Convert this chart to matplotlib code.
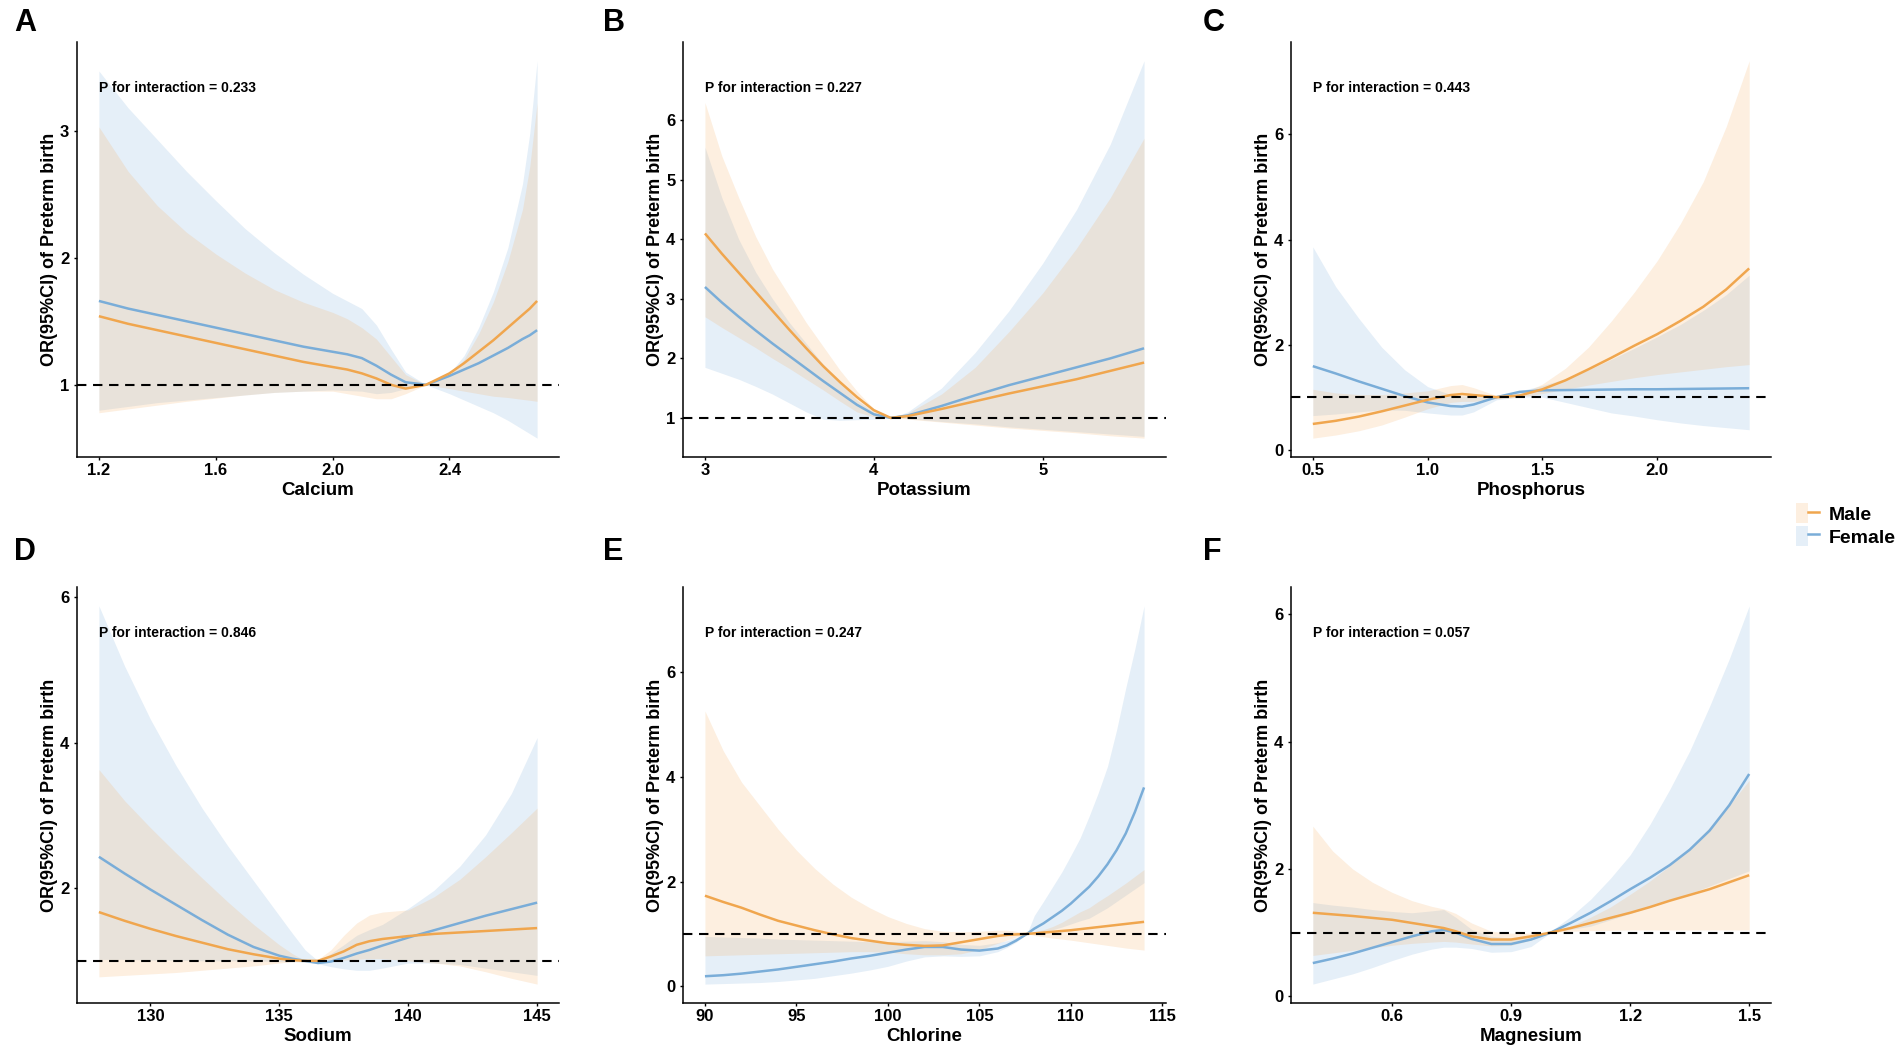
import matplotlib
matplotlib.use('Agg')
import matplotlib.pyplot as plt
import matplotlib.transforms as mtransforms
from matplotlib.patches import Patch
from matplotlib.lines import Line2D
from matplotlib.legend_handler import HandlerTuple

# ---- data (OR and 95% CI by sex) ----
# A  Calcium
ca_x = [1.2, 1.3, 1.4, 1.5, 1.6, 1.7, 1.8, 1.9, 2.0, 2.05, 2.1, 2.15, 2.2, 2.25, 2.32, 2.4, 2.45, 2.5, 2.55, 2.6, 2.65, 2.675, 2.7]
ca_m = [1.54, 1.48, 1.43, 1.38, 1.33, 1.28, 1.23, 1.18, 1.14, 1.12, 1.09, 1.05, 1.0, 0.97, 1.0, 1.09, 1.17, 1.26, 1.35, 1.45, 1.55, 1.6, 1.66]
ca_m_lo = [0.78, 0.81, 0.84, 0.87, 0.895, 0.92, 0.94, 0.95, 0.95, 0.93, 0.91, 0.89, 0.89, 0.93, 1.0, 0.97, 0.95, 0.93, 0.91, 0.9, 0.885, 0.878, 0.87]
ca_m_hi = [3.03, 2.68, 2.41, 2.2, 2.03, 1.88, 1.75, 1.65, 1.57, 1.52, 1.45, 1.36, 1.22, 1.08, 1.0, 1.08, 1.2, 1.4, 1.65, 1.97, 2.38, 2.72, 3.22]
ca_f = [1.66, 1.60, 1.55, 1.50, 1.45, 1.40, 1.35, 1.30, 1.26, 1.24, 1.21, 1.15, 1.08, 1.02, 1.0, 1.07, 1.12, 1.17, 1.23, 1.29, 1.36, 1.39, 1.43]
ca_f_lo = [0.80, 0.83, 0.86, 0.88, 0.90, 0.92, 0.94, 0.95, 0.96, 0.955, 0.95, 0.93, 0.94, 0.97, 1.0, 0.93, 0.88, 0.83, 0.78, 0.72, 0.65, 0.615, 0.58]
ca_f_hi = [3.47, 3.18, 2.93, 2.68, 2.45, 2.23, 2.04, 1.87, 1.72, 1.66, 1.60, 1.47, 1.28, 1.10, 1.0, 1.09, 1.23, 1.45, 1.73, 2.08, 2.58, 2.98, 3.55]

# B  Potassium
k_x = [3.0, 3.1, 3.2, 3.3, 3.4, 3.5, 3.6, 3.7, 3.8, 3.9, 4.0, 4.1, 4.2, 4.4, 4.6, 4.8, 5.0, 5.2, 5.4, 5.6]
k_m = [4.10, 3.76, 3.44, 3.12, 2.8, 2.48, 2.17, 1.87, 1.6, 1.35, 1.13, 1.0, 1.03, 1.15, 1.28, 1.41, 1.53, 1.65, 1.79, 1.93]
k_m_lo = [2.7, 2.52, 2.35, 2.18, 2.0, 1.83, 1.65, 1.47, 1.28, 1.1, 1.02, 1.0, 0.98, 0.93, 0.88, 0.83, 0.79, 0.75, 0.7, 0.66]
k_m_hi = [6.3, 5.4, 4.7, 4.05, 3.5, 3.05, 2.6, 2.2, 1.8, 1.45, 1.15, 1.0, 1.08, 1.4, 1.85, 2.45, 3.1, 3.85, 4.7, 5.7]
k_f = [3.2, 2.94, 2.7, 2.47, 2.25, 2.04, 1.83, 1.62, 1.42, 1.22, 1.06, 1.0, 1.04, 1.2, 1.38, 1.55, 1.7, 1.85, 2.0, 2.17]
k_f_lo = [1.85, 1.75, 1.65, 1.53, 1.4, 1.25, 1.1, 0.98, 0.96, 0.97, 0.98, 1.0, 0.99, 0.94, 0.9, 0.85, 0.81, 0.77, 0.73, 0.69]
k_f_hi = [5.55, 4.7, 4.0, 3.45, 3.0, 2.6, 2.25, 1.9, 1.6, 1.3, 1.1, 1.0, 1.1, 1.5, 2.1, 2.8, 3.6, 4.5, 5.6, 7.0]

# C  Phosphorus
p_x = [0.5, 0.6, 0.7, 0.8, 0.9, 1.0, 1.1, 1.15, 1.2, 1.3, 1.4, 1.5, 1.6, 1.7, 1.8, 1.9, 2.0, 2.1, 2.2, 2.3, 2.4]
p_m = [0.49, 0.55, 0.63, 0.73, 0.84, 0.95, 1.04, 1.06, 1.04, 1.0, 1.03, 1.15, 1.32, 1.53, 1.75, 1.98, 2.2, 2.45, 2.72, 3.05, 3.45]
p_m_lo = [0.22, 0.28, 0.36, 0.47, 0.62, 0.78, 0.9, 0.92, 0.92, 0.97, 1.0, 1.07, 1.15, 1.23, 1.3, 1.37, 1.43, 1.48, 1.53, 1.58, 1.62]
p_m_hi = [1.15, 1.08, 1.05, 1.05, 1.08, 1.12, 1.22, 1.24, 1.18, 1.03, 1.05, 1.25, 1.55, 1.95, 2.45, 3.0, 3.6, 4.3, 5.1, 6.15, 7.4]
p_f = [1.59, 1.45, 1.3, 1.16, 1.02, 0.9, 0.83, 0.82, 0.86, 1.0, 1.1, 1.13, 1.135, 1.14, 1.145, 1.15, 1.15, 1.155, 1.16, 1.165, 1.17]
p_f_lo = [0.65, 0.68, 0.72, 0.76, 0.75, 0.7, 0.66, 0.66, 0.72, 0.95, 1.0, 1.0, 0.9, 0.8, 0.7, 0.64, 0.57, 0.51, 0.46, 0.42, 0.38]
p_f_hi = [3.86, 3.1, 2.5, 1.95, 1.52, 1.2, 1.05, 1.02, 1.02, 1.0, 1.12, 1.22, 1.35, 1.52, 1.72, 1.93, 2.15, 2.38, 2.65, 2.95, 3.32]

# D  Sodium
na_x = [128, 129, 130, 131, 132, 133, 134, 135, 135.5, 136, 136.5, 137, 137.5, 138, 138.5, 139, 140, 141, 142, 143, 144, 145]
na_m = [1.67, 1.55, 1.44, 1.34, 1.25, 1.16, 1.09, 1.03, 1.01, 1.0, 1.0, 1.06, 1.13, 1.22, 1.27, 1.3, 1.34, 1.37, 1.39, 1.41, 1.43, 1.45]
na_m_lo = [0.78, 0.8, 0.82, 0.84, 0.87, 0.9, 0.93, 0.97, 0.99, 1.0, 1.0, 1.0, 1.01, 1.02, 1.03, 1.03, 1.0, 0.97, 0.93, 0.85, 0.76, 0.68]
na_m_hi = [3.63, 3.2, 2.83, 2.48, 2.14, 1.81, 1.5, 1.22, 1.1, 1.0, 1.02, 1.15, 1.35, 1.52, 1.63, 1.67, 1.7, 1.88, 2.12, 2.43, 2.76, 3.1]
na_f = [2.43, 2.2, 1.98, 1.77, 1.56, 1.36, 1.19, 1.07, 1.03, 1.0, 0.97, 0.99, 1.04, 1.1, 1.15, 1.21, 1.32, 1.42, 1.52, 1.62, 1.71, 1.80]
na_f_lo = [1.02, 1.02, 1.01, 1.01, 1.0, 1.0, 1.0, 0.99, 0.99, 0.98, 0.96, 0.92, 0.89, 0.87, 0.87, 0.9, 0.97, 0.97, 0.95, 0.9, 0.85, 0.8]
na_f_hi = [5.88, 5.05, 4.32, 3.68, 3.1, 2.58, 2.1, 1.62, 1.38, 1.15, 1.0, 1.1, 1.22, 1.35, 1.43, 1.5, 1.72, 1.97, 2.3, 2.73, 3.3, 4.07]

# E  Chlorine
cl_x = [90, 91, 92, 93, 94, 95, 96, 97, 98, 99, 100, 101, 102, 103, 104, 105, 106, 106.5, 107, 107.6,
        108, 108.5, 109, 109.5, 110, 110.5, 111, 111.5, 112, 112.5, 113, 113.5, 114]
cl_m = [1.73, 1.61, 1.5, 1.37, 1.25, 1.16, 1.07, 0.99, 0.92, 0.87, 0.82, 0.79, 0.77, 0.78, 0.84, 0.9, 0.96, 0.98, 0.99, 1.0,
        1.01, 1.025, 1.04, 1.055, 1.07, 1.09, 1.11, 1.13, 1.15, 1.17, 1.19, 1.21, 1.23]
cl_m_lo = [0.58, 0.59, 0.6, 0.61, 0.62, 0.63, 0.64, 0.65, 0.66, 0.66, 0.65, 0.62, 0.6, 0.6, 0.62, 0.7, 0.82, 0.88, 0.94, 1.0,
           0.97, 0.945, 0.92, 0.9, 0.88, 0.855, 0.83, 0.805, 0.78, 0.755, 0.73, 0.71, 0.69]
cl_m_hi = [5.26, 4.5, 3.9, 3.45, 3.0, 2.6, 2.25, 1.95, 1.7, 1.5, 1.33, 1.2, 1.1, 1.05, 1.04, 1.05, 1.07, 1.07, 1.05, 1.0,
           1.04, 1.08, 1.14, 1.22, 1.32, 1.42, 1.5, 1.62, 1.73, 1.85, 1.97, 2.1, 2.23]
cl_f = [0.19, 0.21, 0.24, 0.28, 0.32, 0.37, 0.42, 0.47, 0.53, 0.58, 0.64, 0.7, 0.75, 0.75, 0.7, 0.68, 0.72, 0.78, 0.87, 1.0,
        1.1, 1.2, 1.32, 1.44, 1.58, 1.74, 1.9, 2.1, 2.33, 2.6, 2.92, 3.33, 3.8]
cl_f_lo = [0.04, 0.05, 0.06, 0.07, 0.09, 0.12, 0.15, 0.2, 0.25, 0.31, 0.38, 0.48, 0.56, 0.58, 0.57, 0.58, 0.66, 0.74, 0.84, 1.0,
           1.0, 1.04, 1.08, 1.13, 1.19, 1.25, 1.3, 1.4, 1.5, 1.62, 1.74, 1.86, 1.98]
cl_f_hi = [0.95, 0.94, 0.93, 0.92, 0.9, 0.89, 0.88, 0.87, 0.86, 0.85, 0.85, 0.86, 0.87, 0.85, 0.8, 0.78, 0.83, 0.87, 0.93, 1.0,
           1.35, 1.62, 1.9, 2.18, 2.5, 2.83, 3.25, 3.7, 4.2, 4.9, 5.7, 6.45, 7.27]

# F  Magnesium
mg_x = [0.4, 0.45, 0.5, 0.55, 0.6, 0.65, 0.7, 0.73, 0.76, 0.8, 0.85, 0.9, 0.95, 1.0,
        1.05, 1.1, 1.15, 1.2, 1.25, 1.3, 1.35, 1.4, 1.45, 1.5]
mg_m = [1.31, 1.285, 1.26, 1.23, 1.2, 1.15, 1.1, 1.07, 1.02, 0.94, 0.89, 0.89, 0.94, 1.0,
        1.07, 1.15, 1.23, 1.31, 1.4, 1.5, 1.59, 1.68, 1.79, 1.9]
mg_m_lo = [0.64, 0.68, 0.72, 0.76, 0.8, 0.83, 0.85, 0.86, 0.85, 0.82, 0.79, 0.8, 0.88, 1.0,
           1.02, 1.03, 1.035, 1.04, 1.04, 1.04, 1.04, 1.04, 1.04, 1.04]
mg_m_hi = [2.67, 2.28, 2.0, 1.79, 1.63, 1.5, 1.41, 1.37, 1.3, 1.15, 1.02, 0.99, 0.99, 1.0,
           1.1, 1.24, 1.4, 1.6, 1.81, 2.05, 2.33, 2.65, 3.0, 3.39]
mg_f = [0.52, 0.59, 0.67, 0.76, 0.85, 0.94, 1.02, 1.04, 1.0, 0.9, 0.82, 0.82, 0.89, 1.0,
        1.15, 1.31, 1.49, 1.68, 1.86, 2.06, 2.3, 2.6, 3.0, 3.49]
mg_f_lo = [0.19, 0.27, 0.35, 0.45, 0.56, 0.66, 0.74, 0.77, 0.77, 0.75, 0.69, 0.7, 0.78, 1.0,
           1.05, 1.1, 1.2, 1.3, 1.4, 1.5, 1.61, 1.73, 1.85, 1.97]
mg_f_hi = [1.47, 1.43, 1.4, 1.36, 1.33, 1.31, 1.34, 1.36, 1.24, 1.05, 0.94, 0.91, 0.95, 1.02,
           1.25, 1.52, 1.85, 2.22, 2.7, 3.25, 3.85, 4.55, 5.3, 6.13]

letters = ['A', 'B', 'C', 'D', 'E', 'F']
xlabels = ['Calcium', 'Potassium', 'Phosphorus', 'Sodium', 'Chlorine', 'Magnesium']
p_values = ['0.233', '0.227', '0.443', '0.846', '0.247', '0.057']
xticks = [[1.2, 1.6, 2.0, 2.4], [3, 4, 5], [0.5, 1.0, 1.5, 2.0],
          [130, 135, 140, 145], [90, 95, 100, 105, 110, 115], [0.6, 0.9, 1.2, 1.5]]
xticklabels = [['1.2', '1.6', '2.0', '2.4'], ['3', '4', '5'], ['0.5', '1.0', '1.5', '2.0'],
               ['130', '135', '140', '145'], ['90', '95', '100', '105', '110', '115'],
               ['0.6', '0.9', '1.2', '1.5']]
yticks = [[1, 2, 3], [1, 2, 3, 4, 5, 6], [0, 2, 4, 6], [2, 4, 6], [0, 2, 4, 6], [0, 2, 4, 6]]

series = [
    (ca_x, ca_m, ca_m_lo, ca_m_hi, ca_f, ca_f_lo, ca_f_hi),
    (k_x, k_m, k_m_lo, k_m_hi, k_f, k_f_lo, k_f_hi),
    (p_x, p_m, p_m_lo, p_m_hi, p_f, p_f_lo, p_f_hi),
    (na_x, na_m, na_m_lo, na_m_hi, na_f, na_f_lo, na_f_hi),
    (cl_x, cl_m, cl_m_lo, cl_m_hi, cl_f, cl_f_lo, cl_f_hi),
    (mg_x, mg_m, mg_m_lo, mg_m_hi, mg_f, mg_f_lo, mg_f_hi),
]

# ---- style ----
MALE_FILL = '#F5AF64'
FEMALE_FILL = '#7DAFDC'
MALE_LINE = '#F0A64E'
FEMALE_LINE = '#7AADD8'

plt.rcParams['font.family'] = ['Liberation Sans', 'DejaVu Sans']
plt.rcParams['font.weight'] = 'bold'

W, H = 1902, 1047
fig = plt.figure(figsize=(W / 100, H / 100), dpi=100)

col_px = [(77, 482), (683, 483), (1291, 480)]
row_px = [(42, 457), (587, 1003)]
letter_x = [14, 603, 1203]
letter_y = [23, 552]

for i in range(6):
    r, c = divmod(i, 3)
    left, width = col_px[c]
    top, bottom = row_px[r]
    ax = fig.add_axes([left / W, 1 - bottom / H, width / W, (bottom - top) / H])
    x, m, m_lo, m_hi, f, f_lo, f_hi = series[i]

    ax.fill_between(x, f_lo, f_hi, color=FEMALE_FILL, alpha=0.2, lw=0)
    ax.plot(x, f, color=FEMALE_LINE, lw=1.8, solid_capstyle='butt')
    ax.fill_between(x, m_lo, m_hi, color=MALE_FILL, alpha=0.2, lw=0)
    ax.plot(x, m, color=MALE_LINE, lw=1.8, solid_capstyle='butt')
    ax.axhline(1, color='black', lw=1.5, ls=(0, (4.5, 3.2)), zorder=5)

    # ggplot-like 5% expansion
    xr = max(x) - min(x)
    ax.set_xlim(min(x) - 0.05 * xr, max(x) + 0.05 * xr)
    lo = min(min(m_lo), min(f_lo))
    hi = max(max(m_hi), max(f_hi))
    yr = hi - lo
    ax.set_ylim(lo - 0.05 * yr, hi + 0.05 * yr)

    ax.set_xticks(xticks[i])
    ax.set_xticklabels(xticklabels[i])
    ax.set_yticks(yticks[i])
    ax.set_yticklabels([str(v) for v in yticks[i]])
    for s in ['top', 'right']:
        ax.spines[s].set_visible(False)
    for s in ['left', 'bottom']:
        ax.spines[s].set_linewidth(1.1)
    ax.tick_params(axis='both', length=2.5, width=1.0, labelsize=12, colors='black')
    ax.tick_params(axis='x', pad=1.5)
    ax.tick_params(axis='y', pad=3)

    ax.set_xlabel(xlabels[i], fontsize=13.5, fontweight='bold', labelpad=3)
    ax.set_ylabel('OR(95%CI) of Preterm birth', fontsize=13, fontweight='bold', va='center')
    ax.yaxis.set_label_coords(-27 / width, 0.5)

    trans = mtransforms.blended_transform_factory(ax.transData, ax.transAxes)
    ax.text(x[0], 0.889, 'P for interaction = ' + p_values[i], transform=trans,
            ha='left', va='center', fontsize=10, fontweight='bold')

    fig.text(letter_x[c] / W, 1 - letter_y[r] / H, letters[i], ha='left', va='center',
             fontsize=22, fontweight='bold')

handles = [
    (Patch(facecolor=MALE_FILL, alpha=0.2, lw=0), Line2D([], [], color=MALE_LINE, lw=1.8)),
    (Patch(facecolor=FEMALE_FILL, alpha=0.2, lw=0), Line2D([], [], color=FEMALE_LINE, lw=1.8)),
]
fig.legend(handles, ['Male', 'Female'], handler_map={tuple: HandlerTuple(ndivide=None, pad=0)},
           loc='center left', bbox_to_anchor=(1796 / W, 1 - 525 / H), frameon=False,
           prop={'size': 14, 'weight': 'bold'}, handlelength=1.2, handleheight=1.2,
           handletextpad=0.5, labelspacing=0.12, borderpad=0, borderaxespad=0)

fig.savefig('out.png', dpi=100, facecolor='white')
